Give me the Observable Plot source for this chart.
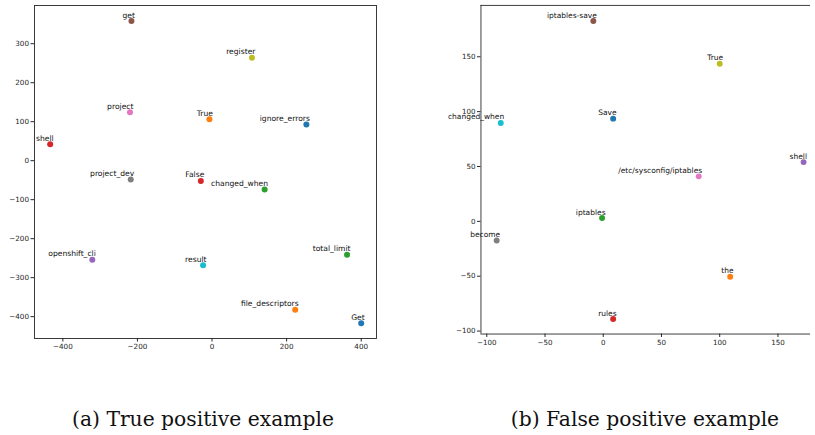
<!DOCTYPE html>
<html>
<head>
<meta charset="utf-8">
<script src="https://cdn.jsdelivr.net/npm/d3@7"></script>
<script src="https://cdn.jsdelivr.net/npm/@observablehq/plot@0.6"></script>
<style>
  html, body { margin: 0; padding: 0; background: #fff; }
  #fig { position: relative; width: 815px; height: 435px; overflow: hidden; }
  .panel { position: absolute; top: 0; }
  .cap { position: absolute; top: 407px; font-family: "DejaVu Serif", serif; font-size: 20.3px; color: #111; white-space: nowrap; transform: translateX(-50%); }
</style>
</head>
<body>
<div id="fig">
  <div id="pa" class="panel" style="left:0px"></div>
  <div id="pb" class="panel" style="left:440px"></div>
  <div class="cap" style="left:203px">(a) True positive example</div>
  <div class="cap" style="left:645px">(b) False positive example</div>
</div>
<script>
// Panel (a): True positive example
const wordsA = ["get","register","project","True","ignore_errors","shell","project_dev","False","changed_when","openshift_cli","result","total_limit","file_descriptors","Get"];
const xA = [-216, 107, -220, -7, 253, -434, -218, -30, 141, -321, -24, 362, 223, 400];
const yA = [358, 264, 124, 106, 93, 42, -48, -52, -74, -254, -268, -241, -382, -417];
const colorA = ["#8c564b","#bcbd22","#e377c2","#ff7f0e","#1f77b4","#d62728","#7f7f7f","#d62728","#2ca02c","#9467bd","#17becf","#2ca02c","#ff7f0e","#1f77b4"];
const xTicksA = [-400, -200, 0, 200, 400];
const yTicksA = [-400, -300, -200, -100, 0, 100, 200, 300];

// Panel (b): False positive example
const wordsB = ["iptables-save","True","changed_when","Save","shell","/etc/sysconfig/iptables","iptables","become","the","rules"];
const xB = [-8.5, 100, -88, 8.5, 172, 82, -1, -91.5, 109, 8.5];
const yB = [182.6, 143.7, 89.7, 93.6, 54, 41, 3, -17.5, -50.5, -89];
const colorB = ["#8c564b","#bcbd22","#17becf","#1f77b4","#9467bd","#e377c2","#2ca02c","#7f7f7f","#ff7f0e","#d62728"];
const xTicksB = [-100, -50, 0, 50, 100, 150];
const yTicksB = [-100, -50, 0, 50, 100, 150];

const font = "DejaVu Sans, sans-serif";

function panel(words, xs, ys, colors, xDom, yDom, xT, yT, opts) {
  const data = words.map((w, i) => ({w, x: xs[i], y: ys[i], c: colors[i]}));
  return Plot.plot({
    width: opts.width,
    height: 360,
    marginLeft: opts.ml,
    marginRight: opts.mr,
    marginTop: 5,
    marginBottom: 22,
    style: {fontFamily: font, fontSize: "7.2px", color: "#262626", background: "transparent"},
    x: {domain: xDom, ticks: xT, tickSize: 3.5, tickPadding: 2, label: null},
    y: {domain: yDom, ticks: yT, tickSize: 3.5, tickPadding: 2, label: null},
    marks: [
      opts.frame
        ? Plot.frame({stroke: "#262626", strokeWidth: 0.9})
        : [Plot.ruleY([yDom[1]], {stroke: "#262626", strokeWidth: 0.9}),
           Plot.ruleY([yDom[0]], {stroke: "#262626", strokeWidth: 0.9}),
           Plot.ruleX([xDom[0]], {stroke: "#262626", strokeWidth: 0.9})],
      Plot.dot(data, {x: "x", y: "y", r: 3, fill: "c", stroke: null}),
      Plot.text(data, {x: "x", y: "y", text: "w", textAnchor: "end", dx: 3.5, dy: -3.5, lineAnchor: "bottom", fill: "#111", fontSize: 7.6})
    ]
  });
}

document.getElementById("pa").appendChild(
  panel(wordsA, xA, yA, colorA, [-476, 441], [-456, 398], xTicksA, yTicksA, {width: 400, ml: 34, mr: 24, frame: true})
);
document.getElementById("pb").appendChild(
  panel(wordsB, xB, yB, colorB, [-105, 178], [-102.7, 196.8], xTicksB, yTicksB, {width: 380, ml: 41, mr: 5, frame: false})
);
</script>
</body>
</html>
